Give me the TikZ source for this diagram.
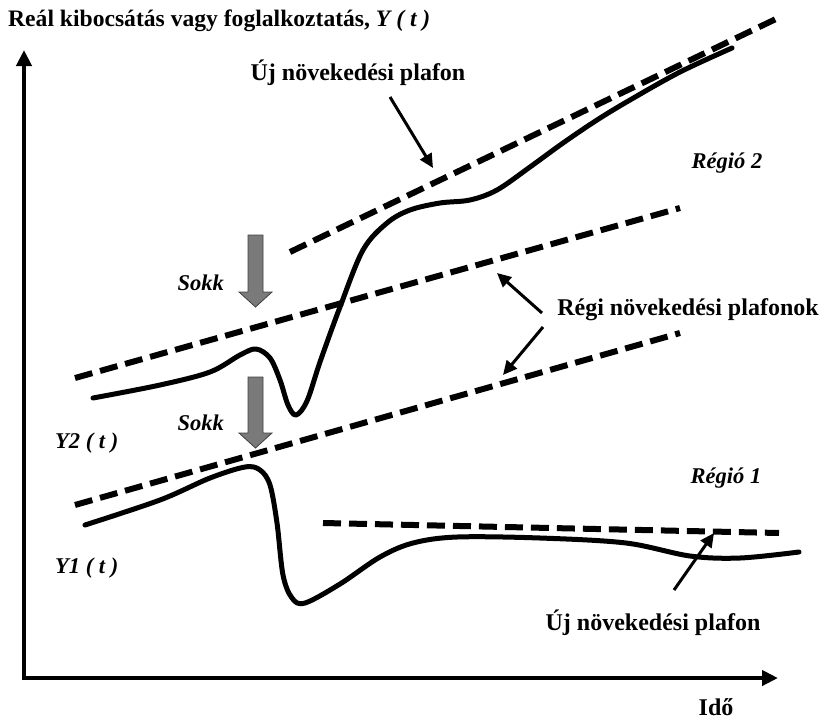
\documentclass[tikz,border=0pt]{standalone}
\usepackage{fontspec}
\setmainfont{Liberation Serif}
\usetikzlibrary{arrows.meta}
\definecolor{shockgray}{HTML}{7A7A7A}
\begin{document}
\begin{tikzpicture}[x=1pt,y=-1pt,
  ceil/.style={line width=6pt, dash pattern=on 18pt off 8pt},
  growth/.style={line width=5pt, line cap=round, line join=round},
  pointer/.style={line width=3pt, -{Triangle[length=14pt,width=13pt]}},
  ttl/.style={font=\bfseries\fontsize{23.6}{26}\selectfont, inner sep=0pt},
  lbl/.style={font=\bfseries\fontsize{24}{26}\selectfont, inner sep=0pt},
  ilbl/.style={font=\bfseries\itshape\fontsize{22.5}{25}\selectfont, inner sep=0pt},
  shock/.style={fill=shockgray, draw=black!75, line width=0.8pt, line join=miter}
]
\useasboundingbox (0,0) rectangle (826,720);

% axes
\coordinate (O) at (24,678);
\coordinate (ytop) at (24,50);
\coordinate (xend) at (778,678);
\draw[line width=4pt, line join=miter, {Triangle[length=16pt,width=15pt]}-{Triangle[length=16pt,width=15pt]}] (ytop) -- (O) -- (xend);

% labels
\node[ttl, anchor=west] (title) at (8,21) {Reál kibocsátás vagy foglalkoztatás, \textit{Y ( t )}};
\node[lbl] (topnew) at (358,73) {Új növekedési plafon};
\node[ilbl] (reg2) at (727,163) {Régió 2};
\node[ilbl, anchor=east] (sokk1) at (224,283) {Sokk};
\node[lbl] (regi) at (688,310) {Régi növekedési plafonok};
\node[ilbl, anchor=east] (sokk2) at (224,423) {Sokk};
\node[ilbl, anchor=west] (y2) at (55,443) {Y2 ( t )};
\node[ilbl] (reg1) at (726,478) {Régió 1};
\node[ilbl, anchor=west] (y1) at (55,568) {Y1 ( t )};
\node[lbl] (botnew) at (653,623) {Új növekedési plafon};
\node[lbl, anchor=base] (ido) at (716,715) {Idő};

% ceilings
\draw[ceil] (290,252) -- (778,18);
\draw[ceil] (75,378) -- (680,208);
\draw[ceil] (75,505) -- (680,333);
\draw[ceil] (323,523) -- (779,533);

% region 2 curve
\draw[growth] plot[smooth, tension=0.55] coordinates {
 (93,398) (160,385) (210,372) (240,355) (256,349) (270,358) (280,380)
 (288,405) (296,415) (307,401) (320,362) (340,307) (363,250) (387,223)
 (410,210) (440,203) (470,200) (497,190) (530,167) (563,143) (597,120)
 (630,100) (680,72) (732,48)};

% region 1 curve
\draw[growth] plot[smooth, tension=0.55] coordinates {
 (85,525) (160,500) (210,478) (245,467) (260,470) (270,485) (277,523)
 (283,575) (292,598) (305,603) (340,584) (380,557) (413,543) (457,537)
 (540,538) (626,543) (690,556) (740,558) (799,552)};

% shock arrows
\draw[shock] (248,235) -- (263,235) -- (263,292) -- (272,292) -- (255.5,307) -- (239,292) -- (248,292) -- cycle;
\draw[shock] (248,377) -- (263,377) -- (263,433) -- (272,433) -- (255.5,448) -- (239,433) -- (248,433) -- cycle;

% pointers
\coordinate (p1s) at (390,97);   \coordinate (p1e) at (433,168);
\coordinate (p2s) at (542,313);  \coordinate (p2e) at (497,273);
\coordinate (p3s) at (543,327);  \coordinate (p3e) at (503,375);
\coordinate (p4s) at (674,590);  \coordinate (p4e) at (714,533);
\draw[pointer] (p1s) -- (p1e);
\draw[pointer] (p2s) -- (p2e);
\draw[pointer] (p3s) -- (p3e);
\draw[pointer] (p4s) -- (p4e);
\end{tikzpicture}
\end{document}
